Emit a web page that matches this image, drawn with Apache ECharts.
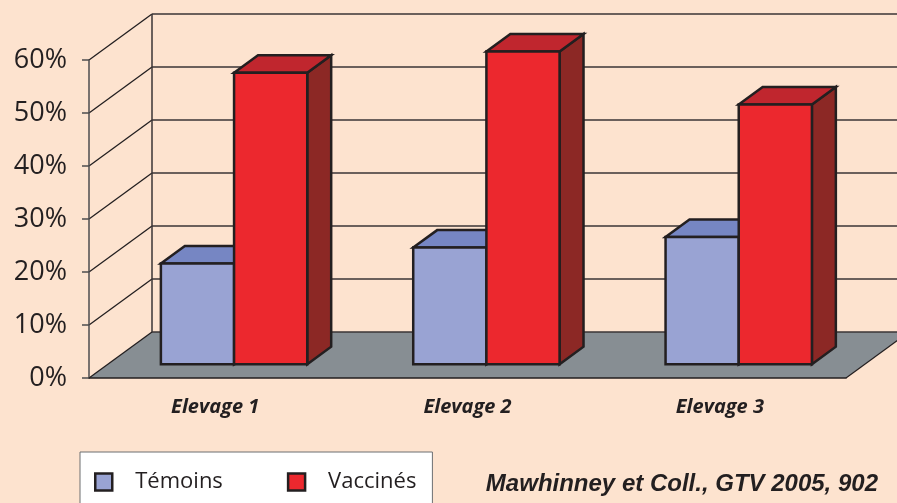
<!DOCTYPE html>
<html>
<head>
<meta charset="utf-8">
<script src="https://cdn.jsdelivr.net/npm/echarts@6/dist/echarts.min.js"></script>
<style>
    html, body { margin: 0; padding: 0; background: #fde3cf; }
    #main { width: 897px; height: 503px; }
</style>
</head>
<body>
<div id="main"></div>
<script>
// données
var categories = ['Elevage 1', 'Elevage 2', 'Elevage 3'];
var temoins = [19, 22, 24];
var vaccines = [55, 59, 49];
var yTicks = [0, 10, 20, 30, 40, 50, 60];

(function () {
    var DX = 63, DY = -46;      // profondeur du graphe (pseudo 3D)
    var F0 = 0.3, F1 = 0.68;    // position des barres dans la profondeur
    var BAR_W = 0.29;           // largeur d'une barre / largeur de catégorie
    var INK = '#231f20';

    var myChart = echarts.init(document.getElementById('main'));

    // murs + sol
    function renderDecor(params, api) {
        var band = api.size([1, 0])[0];
        var left = api.coord([0, 0])[0] - band / 2;
        var right = api.coord([categories.length - 1, 0])[0] + band / 2;
        var y0 = api.coord([0, 0])[1];
        var yTop = api.coord([0, yTicks[yTicks.length - 1]])[1];
        var children = [];

        // sol
        children.push({
            type: 'polygon',
            shape: { points: [[left, y0], [right, y0], [right + DX, y0 + DY], [left + DX, y0 + DY]] },
            style: { fill: '#878e93' }
        });
        // lignes du fond et diagonales
        for (var i = 0; i < yTicks.length; i++) {
            var y = api.coord([0, yTicks[i]])[1];
            children.push({
                type: 'line',
                shape: { x1: left + DX, y1: y + DY, x2: right + DX, y2: y + DY },
                style: { stroke: '#3a3436', lineWidth: 1.5 }
            });
            children.push({
                type: 'line',
                shape: { x1: left, y1: y, x2: left + DX, y2: y + DY },
                style: { stroke: INK, lineWidth: 1.3 }
            });
        }
        // arête verticale du fond
        children.push({
            type: 'line',
            shape: { x1: left + DX, y1: yTop + DY, x2: left + DX, y2: y0 + DY },
            style: { stroke: '#3a3436', lineWidth: 1.5 }
        });
        // bord droit du sol
        children.push({
            type: 'line',
            shape: { x1: right, y1: y0, x2: right + DX, y2: y0 + DY },
            style: { stroke: INK, lineWidth: 1.2 }
        });
        return { type: 'group', children: children };
    }

    // barre 3D
    function renderBar(side, front, top, flank) {
        return function (params, api) {
            var cat = api.value(0);
            var base = api.coord([cat, 0]);
            var head = api.coord([cat, api.value(1)]);
            var band = api.size([1, 0])[0];
            var w = band * BAR_W;
            var x0 = base[0] + (side === 0 ? -w : 0) + DX * F0;
            var x1 = x0 + w;
            var yb = base[1] + DY * F0;
            var yt = head[1] + DY * F0;
            var dx = DX * (F1 - F0), dy = DY * (F1 - F0);
            var line = { stroke: INK, lineWidth: 2.5, lineJoin: 'miter' };
            return {
                type: 'group',
                children: [{
                    type: 'polygon',
                    shape: { points: [[x1, yt], [x1 + dx, yt + dy], [x1 + dx, yb + dy], [x1, yb]] },
                    style: Object.assign({ fill: flank }, line)
                }, {
                    type: 'polygon',
                    shape: { points: [[x0, yt], [x1, yt], [x1 + dx, yt + dy], [x0 + dx, yt + dy]] },
                    style: Object.assign({ fill: top }, line)
                }, {
                    type: 'rect',
                    shape: { x: x0, y: yt, width: w, height: yb - yt },
                    style: Object.assign({ fill: front }, line)
                }]
            };
        };
    }

    function toData(arr) {
        return arr.map(function (v, i) { return [i, v]; });
    }

    var option = {
        backgroundColor: '#fde3cf',
        animation: false,
        grid: { left: 89, right: 51, top: 60, bottom: 125 },
        legend: {
            left: 80,
            top: 452,
            padding: [19, 16, 40, 14],
            backgroundColor: '#fff',
            borderColor: '#6d6e71',
            borderWidth: 1,
            itemWidth: 17,
            itemHeight: 17,
            itemGap: 64,
            textStyle: { fontFamily: 'Open Sans', fontSize: 22, color: INK, padding: [0, 0, 0, 18] },
            data: [
                { name: 'Témoins', icon: 'rect', itemStyle: { color: '#99a3d3', borderColor: INK, borderWidth: 2.5 } },
                { name: 'Vaccinés', icon: 'rect', itemStyle: { color: '#ec282e', borderColor: INK, borderWidth: 2.5 } }
            ]
        },
        xAxis: {
            type: 'category',
            data: categories,
            z: 10,
            axisLine: { lineStyle: { color: INK, width: 1.5 } },
            axisTick: { length: 9, lineStyle: { color: '#4d4d4f', width: 1.5 } },
            axisLabel: {
                margin: 19,
                fontFamily: 'Open Sans',
                fontSize: 20,
                fontWeight: 'bold',
                fontStyle: 'italic',
                color: INK
            }
        },
        yAxis: {
            type: 'value',
            min: 0,
            max: 60,
            interval: 10,
            z: 10,
            axisLine: { show: true, lineStyle: { color: '#4d4d4f', width: 1.5 } },
            axisTick: { show: true, length: 7, lineStyle: { color: '#4d4d4f', width: 1.5 } },
            splitLine: { show: false },
            axisLabel: {
                margin: 22,
                formatter: '{value}%',
                fontFamily: 'Open Sans',
                fontSize: 27,
                color: INK
            }
        },
        graphic: [{
            type: 'text',
            right: 19,
            top: 472,
            style: {
                text: 'Mawhinney et Coll., GTV 2005, 902',
                fontFamily: 'Liberation Sans',
                fontSize: 24,
                fontWeight: 'bold',
                fontStyle: 'italic',
                fill: INK
            }
        }],
        series: [{
            type: 'custom',
            name: 'decor',
            z: 1,
            silent: true,
            renderItem: renderDecor,
            data: [[0, 0]]
        }, {
            type: 'custom',
            name: 'Témoins',
            z: 2,
            itemStyle: { color: '#99a3d3' },
            encode: { x: 0, y: 1 },
            renderItem: renderBar(0, '#99a3d3', '#7686c3', '#6f7bb0'),
            data: toData(temoins)
        }, {
            type: 'custom',
            name: 'Vaccinés',
            z: 3,
            itemStyle: { color: '#ec282e' },
            encode: { x: 0, y: 1 },
            renderItem: renderBar(1, '#ec282e', '#c0262e', '#8c2825'),
            data: toData(vaccines)
        }]
    };

    myChart.setOption(option);
})();
</script>
</body>
</html>
